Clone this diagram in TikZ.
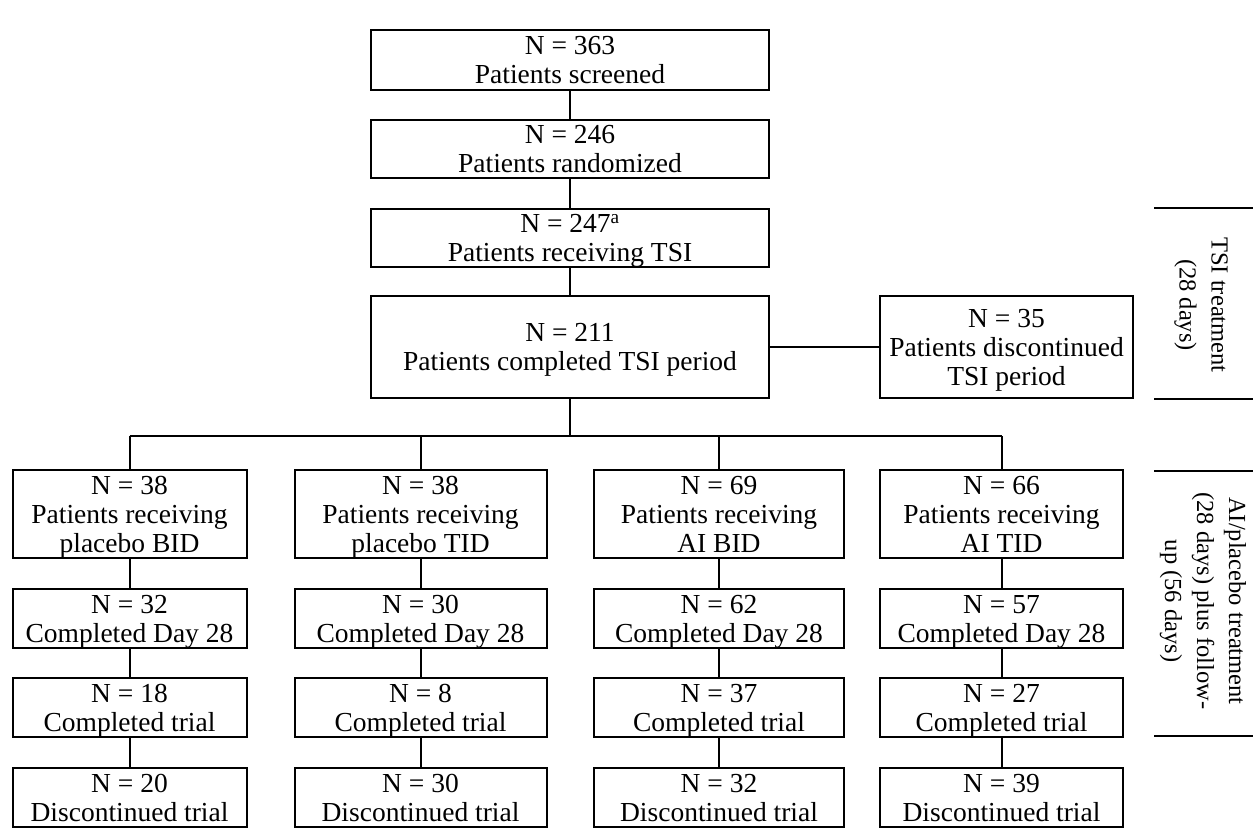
\documentclass[tikz,border=0pt]{standalone}
\usepackage{fontspec}
\setmainfont{Liberation Serif}
\begin{document}
\begin{tikzpicture}[x=1pt,y=-1pt,
  box/.style={draw, line width=2pt, inner sep=0pt, align=center, text depth=0pt,
    font=\fontsize{27.5}{29}\selectfont},
  link/.style={line width=2pt},
  sidelabel/.style={inner sep=0pt, align=center, rotate=-90,
    font=\fontsize{24.5}{32}\selectfont}]
\useasboundingbox (0,0) rectangle (1256,834);
% main column
\node[box, minimum width=398pt, minimum height=60pt] (b1) at (570,60) {N = 363\\Patients screened};
\node[box, minimum width=398pt, minimum height=58pt] (b2) at (570,149) {N = 246\\Patients randomized};
\node[box, minimum width=398pt, minimum height=58pt] (b3) at (570,238) {N = 247\textsuperscript{a}\\Patients receiving TSI};
\node[box, minimum width=398pt, minimum height=102pt] (b4) at (570,347) {N = 211\\Patients completed TSI period};
\node[box, minimum width=253pt, minimum height=102pt] (bd) at (1006.5,347) {N = 35\\Patients discontinued\\TSI period};
\draw[link] (b1) -- (b2);
\draw[link] (b2) -- (b3);
\draw[link] (b3) -- (b4);
\draw[link] (b4) -- (bd);
% four arms
\node[box, minimum width=234pt, minimum height=88pt] (a1) at (129.5,514) {N = 38\\Patients receiving\\placebo BID};
\node[box, minimum width=252pt, minimum height=88pt] (a2) at (420.5,514) {N = 38\\Patients receiving\\placebo TID};
\node[box, minimum width=250pt, minimum height=88pt] (a3) at (719,514) {N = 69\\Patients receiving\\AI BID};
\node[box, minimum width=243pt, minimum height=88pt] (a4) at (1001.5,514) {N = 66\\Patients receiving\\AI TID};
\node[box, minimum width=234pt, minimum height=59pt] (d1) at (129.5,618.5) {N = 32\\Completed Day 28};
\node[box, minimum width=252pt, minimum height=59pt] (d2) at (420.5,618.5) {N = 30\\Completed Day 28};
\node[box, minimum width=250pt, minimum height=59pt] (d3) at (719,618.5) {N = 62\\Completed Day 28};
\node[box, minimum width=243pt, minimum height=59pt] (d4) at (1001.5,618.5) {N = 57\\Completed Day 28};
\node[box, minimum width=234pt, minimum height=59pt] (t1) at (129.5,707.5) {N = 18\\Completed trial};
\node[box, minimum width=252pt, minimum height=59pt] (t2) at (420.5,707.5) {N = 8\\Completed trial};
\node[box, minimum width=250pt, minimum height=59pt] (t3) at (719,707.5) {N = 37\\Completed trial};
\node[box, minimum width=243pt, minimum height=59pt] (t4) at (1001.5,707.5) {N = 27\\Completed trial};
\node[box, minimum width=234pt, minimum height=59pt] (x1) at (129.5,797.5) {N = 20\\Discontinued trial};
\node[box, minimum width=252pt, minimum height=59pt] (x2) at (420.5,797.5) {N = 30\\Discontinued trial};
\node[box, minimum width=250pt, minimum height=59pt] (x3) at (719,797.5) {N = 32\\Discontinued trial};
\node[box, minimum width=243pt, minimum height=59pt] (x4) at (1001.5,797.5) {N = 39\\Discontinued trial};
% branching
\coordinate (br) at (570,436);
\coordinate (j1) at (129.5,436);
\coordinate (j2) at (420.5,436);
\coordinate (j3) at (719,436);
\coordinate (j4) at (1001.5,436);
\draw[link] (b4.south) -- (br);
\draw[link] (j1) -- (j4);
\foreach \i in {1,2,3,4} {
  \draw[link] (j\i) -- (a\i.north);
  \draw[link] (a\i) -- (d\i);
  \draw[link] (d\i) -- (t\i);
  \draw[link] (t\i) -- (x\i);
}
% side phase markers
\draw[link] (1154,208) -- (1253,208);
\draw[link] (1154,399) -- (1253,399);
\draw[link] (1154,471) -- (1253,471);
\draw[link] (1154,736) -- (1253,736);
\node[sidelabel] (s1) at (1201,305) {TSI treatment\\(28 days)};
\node[sidelabel] (s2) at (1203,601) {AI/placebo treatment\\(28 days) plus follow-\\up (56 days)};
\end{tikzpicture}
\end{document}
